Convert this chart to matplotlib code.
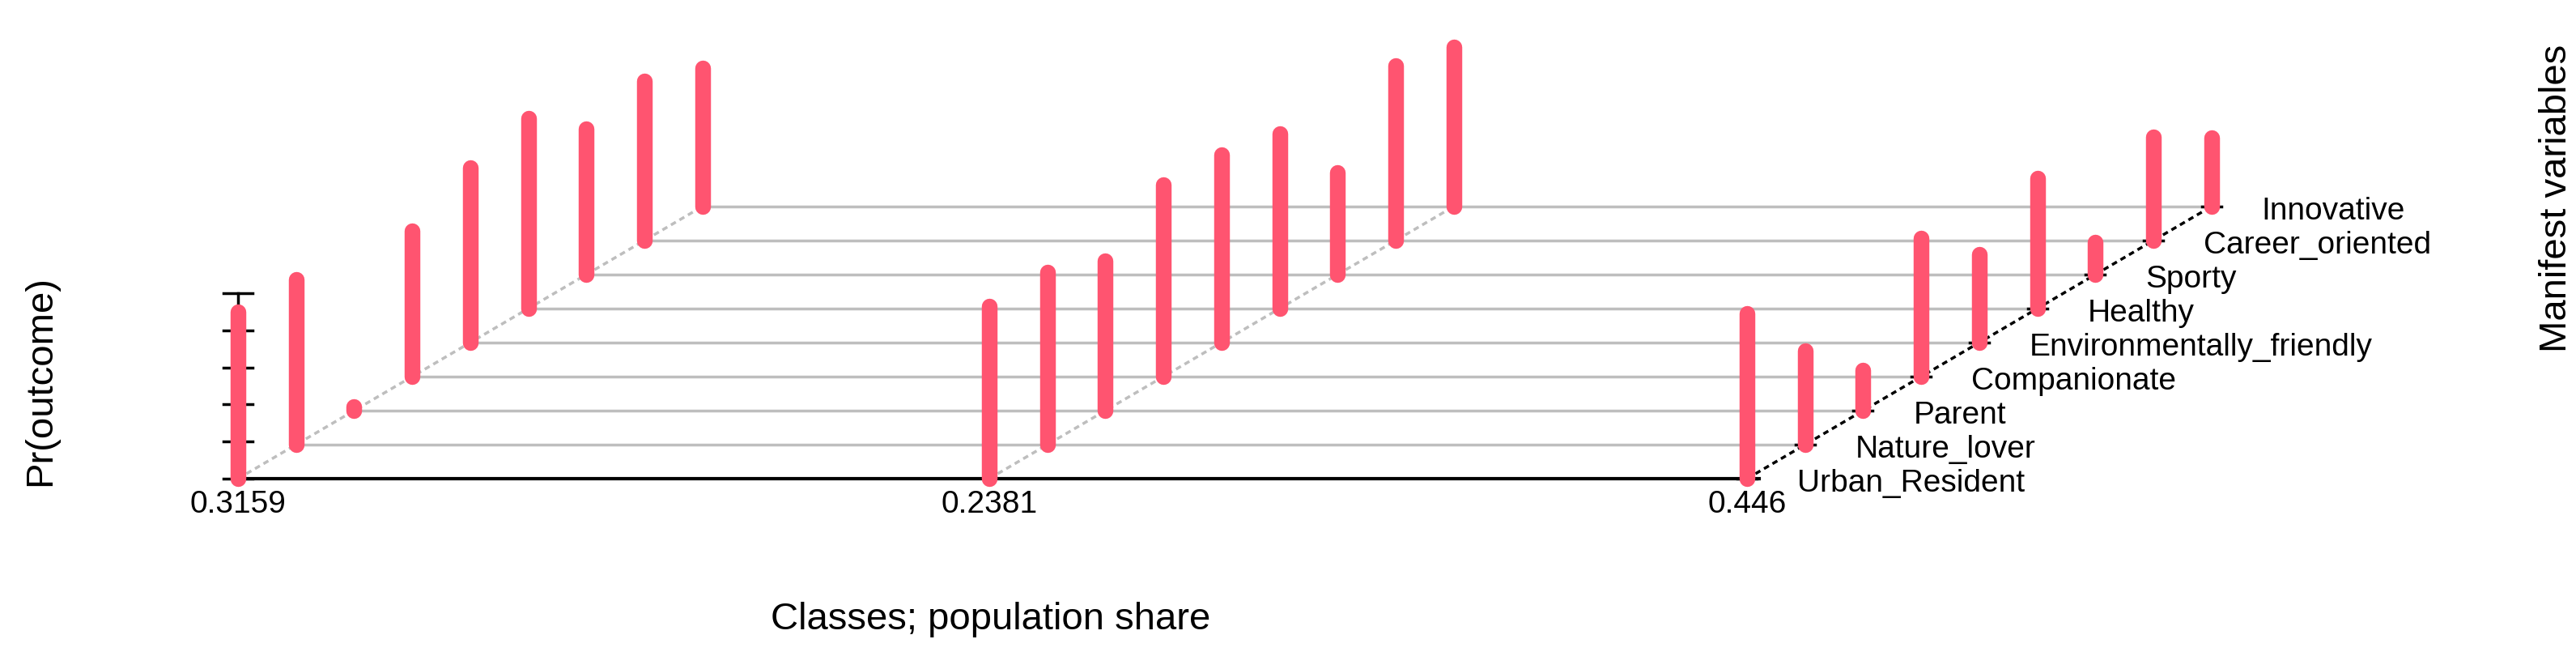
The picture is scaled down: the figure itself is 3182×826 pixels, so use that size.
import numpy as np
import matplotlib.pyplot as plt

# --- data ---
class_shares = ["0.3159", "0.2381", "0.446"]
variables = ["Urban_Resident", "Nature_lover", "Parent", "Companionate",
             "Environmentally_friendly", "Healthy", "Sporty",
             "Career_oriented", "Innovative"]
class1 = [0.87, 0.86, 0.02, 0.76, 0.91, 0.99, 0.76, 0.83, 0.72]
class2 = [0.90, 0.90, 0.78, 1.00, 0.98, 0.91, 0.53, 0.91, 0.83]
class3 = [0.86, 0.49, 0.21, 0.72, 0.46, 0.68, 0.17, 0.54, 0.36]
probs = [class1, class2, class3]

# --- layout (pixel space) ---
W, H = 3182, 826
base_y = 591
origins = [294, 1222, 2158]
dx, dy = 71.7, 42.0
unit = 237
bar_col = "#FF5470"

plt.rcParams['font.family'] = ['Liberation Sans', 'DejaVu Sans']
fig = plt.figure(figsize=(W / 100, H / 100), dpi=100)
ax = fig.add_axes([0, 0, 1, 1])
ax.set_xlim(0, W)
ax.set_ylim(H, 0)
ax.axis('off')

nv = len(variables)
steps = np.arange(nv)

# gray depth lines
for j in steps[1:]:
    y = base_y - j * dy
    ax.plot([origins[0] + j * dx, origins[-1] + j * dx], [y, y],
            color="#BEBEBE", lw=2.5, zorder=1)
# dotted diagonals under first classes
for ox in origins[:-1]:
    ax.plot([ox, ox + (nv - 1) * dx], [base_y, base_y - (nv - 1) * dy],
            color="#BEBEBE", lw=2.5, ls=(0, (2, 1.5)), zorder=1)
# black baseline and final diagonal axis
ax.plot([origins[0], origins[-1] + 15], [base_y, base_y], color="black", lw=3, zorder=2)
ox = origins[-1]
ax.plot([ox, ox + (nv - 1) * dx], [base_y, base_y - (nv - 1) * dy],
        color="black", lw=2.5, ls=(0, (2, 1.5)), zorder=2)
for j in steps:
    x, y = ox + j * dx, base_y - j * dy
    ax.plot([x - 12, x + 12], [y, y], color="black", lw=2.5, zorder=2)
    ax.text(x + 62, y + 6, variables[j], fontsize=28, va="center", ha="left")

# vertical tick axis
ticks = np.linspace(0, 0.966, 6)
ax.plot([origins[0], origins[0]], [base_y, base_y - ticks[-1] * unit], color="black", lw=2.5, zorder=2)
for t in ticks:
    ax.plot([origins[0] - 18, origins[0] + 18], [base_y - t * unit] * 2, color="black", lw=2.5, zorder=2)

# bars
for ci, (ox, vals) in enumerate(zip(origins, probs)):
    for j, v in enumerate(vals):
        x, y = ox + j * dx, base_y - j * dy
        ax.plot([x, x], [y, y - v * unit], color=bar_col, lw=14,
                solid_capstyle="round", zorder=3)
    ax.text(ox, base_y + 32, class_shares[ci], fontsize=28, ha="center", va="center")

ax.text(50, 470, "Pr(outcome)", fontsize=34, rotation=90, ha="center", va="center")
ax.text(1224, 765, "Classes; population share", fontsize=34, ha="center", va="center")
ax.text(3158, 245, "Manifest variables", fontsize=34, rotation=90, ha="center", va="center")

fig.savefig("out.png", dpi=100)
